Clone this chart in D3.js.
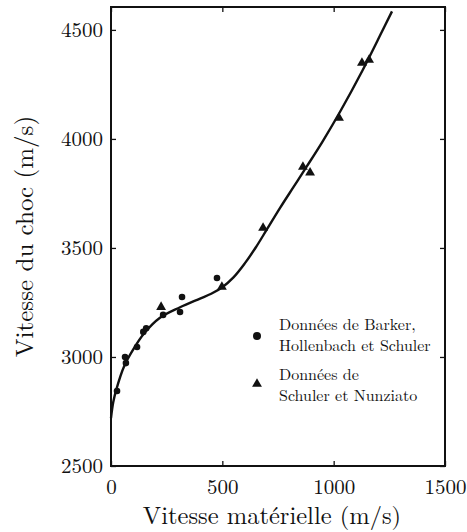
<!DOCTYPE html>
<html>
<head>
<meta charset="utf-8">
<script src="https://cdn.jsdelivr.net/npm/d3@7"></script>
<style>
  body { margin: 0; background: #fff; }
</style>
</head>
<body>
<div id="chart"></div>
<script>
// ----------------------
// Data
// ----------------------
const xTicks = [0, 500, 1000, 1500];
const yTicks = [2500, 3000, 3500, 4000, 4500];

// Barker, Hollenbach et Schuler (circles)
const barkerX = [27, 63, 67, 117, 145, 158, 234, 310, 319, 476];
const barkerY = [2844, 3000, 2972, 3046, 3115, 3132, 3193, 3206, 3275, 3362];

// Schuler et Nunziato (triangles)
const schulerX = [225, 498, 683, 862, 894, 1024, 1127, 1159];
const schulerY = [3229, 3321, 3592, 3872, 3845, 4096, 4349, 4362];

// fitted curve
const curveX = [0, 10, 25, 60, 100, 150, 220, 310, 400, 450, 500, 550, 600, 650, 700, 760, 820, 880, 950, 1030, 1130, 1216, 1262];
const curveY = [2720, 2792, 2855, 2960, 3035, 3110, 3180, 3228, 3268, 3290, 3320, 3365, 3428, 3502, 3585, 3685, 3780, 3875, 3988, 4127, 4315, 4490, 4585];

const legendLabels = [
    ["Données de Barker,", "Hollenbach et Schuler"],
    ["Données de", "Schuler et Nunziato"]
];

const serif = '"Latin Modern Roman", "Liberation Serif", "DejaVu Serif"';

// ----------------------
// Layout
// ----------------------
const width = 467, height = 532;
const margin = { top: 7, right: 22, bottom: 66, left: 111 };

const svg = d3.select("#chart")
    .append("svg")
    .attr("width", width)
    .attr("height", height);

const x = d3.scaleLinear().domain([0, 1500]).range([margin.left, width - margin.right]);
const y = d3.scaleLinear().domain([2500, 4605]).range([height - margin.bottom, margin.top]);

// axes (ticks point inward)
svg.append("g")
    .attr("transform", `translate(0,${height - margin.bottom})`)
    .call(d3.axisBottom(x).tickValues(xTicks).tickSize(-5).tickPadding(13).tickFormat(d3.format("d")))
    .call(g => g.select(".domain").remove())
    .call(g => g.selectAll("text").attr("font-size", 21).style("font-family", serif).attr("fill", "#111"));

svg.append("g")
    .attr("transform", `translate(${margin.left},0)`)
    .call(d3.axisLeft(y).tickValues(yTicks).tickSize(-5).tickPadding(8).tickFormat(d3.format("d")))
    .call(g => g.select(".domain").remove())
    .call(g => g.selectAll("text").attr("font-size", 21).style("font-family", serif).attr("fill", "#111"));

svg.append("g")
    .attr("transform", `translate(0,${margin.top})`)
    .call(d3.axisTop(x).tickValues(xTicks).tickSize(-5).tickFormat(""))
    .call(g => g.select(".domain").remove());

svg.append("g")
    .attr("transform", `translate(${width - margin.right},0)`)
    .call(d3.axisRight(y).tickValues(yTicks).tickSize(-5).tickFormat(""))
    .call(g => g.select(".domain").remove());

svg.selectAll(".tick line").attr("stroke", "#111").attr("stroke-width", 1.3);

// frame
svg.append("rect")
    .attr("x", margin.left)
    .attr("y", margin.top)
    .attr("width", width - margin.left - margin.right)
    .attr("height", height - margin.top - margin.bottom)
    .attr("fill", "none")
    .attr("stroke", "#111")
    .attr("stroke-width", 2);

// axis titles
svg.append("text")
    .attr("x", 272)
    .attr("y", 524)
    .attr("text-anchor", "middle")
    .attr("font-size", 24.5)
    .style("font-family", serif)
    .attr("fill", "#111")
    .text("Vitesse matérielle (m/s)");

svg.append("text")
    .attr("transform", `translate(33,${(margin.top + height - margin.bottom) / 2}) rotate(-90)`)
    .attr("text-anchor", "middle")
    .attr("font-size", 25)
    .style("font-family", serif)
    .attr("fill", "#111")
    .text("Vitesse du choc (m/s)");

// curve
const line = d3.line()
    .x(d => x(d[0]))
    .y(d => y(d[1]))
    .curve(d3.curveCatmullRom.alpha(0.5));

svg.append("path")
    .datum(d3.zip(curveX, curveY))
    .attr("d", line)
    .attr("fill", "none")
    .attr("stroke", "#111")
    .attr("stroke-width", 2.4);

// markers
const tri = d3.symbol().type(d3.symbolTriangle).size(42);

svg.selectAll(".barker")
    .data(d3.zip(barkerX, barkerY))
    .enter()
    .append("circle")
    .attr("class", "barker")
    .attr("cx", d => x(d[0]))
    .attr("cy", d => y(d[1]))
    .attr("r", 3.3)
    .attr("fill", "#111");

svg.selectAll(".schuler")
    .data(d3.zip(schulerX, schulerY))
    .enter()
    .append("path")
    .attr("class", "schuler")
    .attr("d", tri)
    .attr("transform", d => `translate(${x(d[0])},${y(d[1])})`)
    .attr("fill", "#111");

// legend
const legend = svg.append("g").attr("transform", "translate(257,0)");

legend.append("circle").attr("cx", 0).attr("cy", 336).attr("r", 4).attr("fill", "#111");
legend.append("path").attr("d", tri).attr("transform", "translate(0,384)").attr("fill", "#111");

legendLabels.forEach((lines, i) => {
    lines.forEach((t, j) => {
        legend.append("text")
            .attr("x", 22)
            .attr("y", [330, 380][i] + j * 21)
            .attr("font-size", 16)
            .style("font-family", serif)
            .attr("fill", "#111")
            .text(t);
    });
});
</script>
</body>
</html>
